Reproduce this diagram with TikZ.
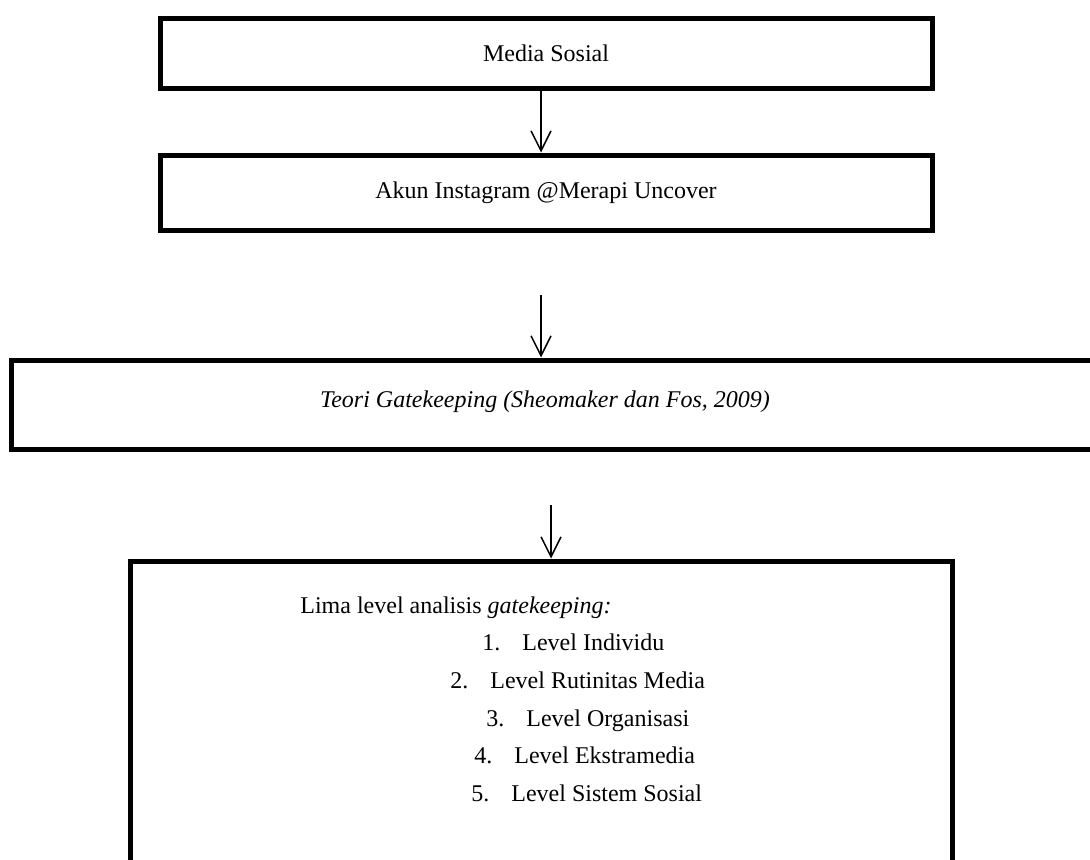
\documentclass[tikz,border=0pt]{standalone}
\usepackage{fontspec}
\setmainfont{Liberation Serif}
\usetikzlibrary{arrows.meta}
\tikzset{
 kotak/.style={draw,line width=2.5pt,inner sep=0pt},
 teks/.style={font=\fontsize{12}{14}\selectfont,inner sep=0pt},
 panah/.style={-{Straight Barb[length=10pt,width=10pt]},line width=0.75pt},
}
\begin{document}
\begin{tikzpicture}[x=0.5pt,y=-0.5pt]
 \path[use as bounding box,clip](0,0) rectangle (1090,859);
 % kotak
 \node[kotak,teks,minimum width=386pt,minimum height=35pt](media) at (546,53){Media Sosial};
 \node[kotak,teks,minimum width=386pt,minimum height=37.5pt](akun) at (546,192.5){Akun Instagram @Merapi Uncover};
 \node[kotak,minimum width=549.5pt,minimum height=44.5pt](teoribox) at (560.5,404.5){};
 \node[teks,font=\fontsize{12}{14}\selectfont\itshape](teori) at (545,402){Teori Gatekeeping (Sheomaker dan Fos, 2009)};
 \node[kotak,minimum width=411pt,minimum height=169.5pt](limabox) at (541,730.5){};
 % isi kotak terakhir
 \node[teks,anchor=base west](lima) at (300,613){Lima level analisis \textit{gatekeeping:}};
 \foreach \no/\isi/\x/\y in {1/Level Individu/482/650,2/Level Rutinitas Media/450/688,3/Level Organisasi/486/726,4/Level Ekstramedia/474/763,5/Level Sistem Sosial/471/801}
  \node[teks,anchor=base west](level\no) at (\x,\y){\no.\hspace{11pt}\isi};
 % panah
 \coordinate (p2) at (541,295);
 \coordinate (p3) at (551,505);
 \draw[panah]([xshift=-2.5pt]media.south)--([xshift=-2.5pt]akun.north);
 \draw[panah](p2)--(p2|-teoribox.north);
 \draw[panah](p3)--(p3|-limabox.north);
\end{tikzpicture}
\end{document}
